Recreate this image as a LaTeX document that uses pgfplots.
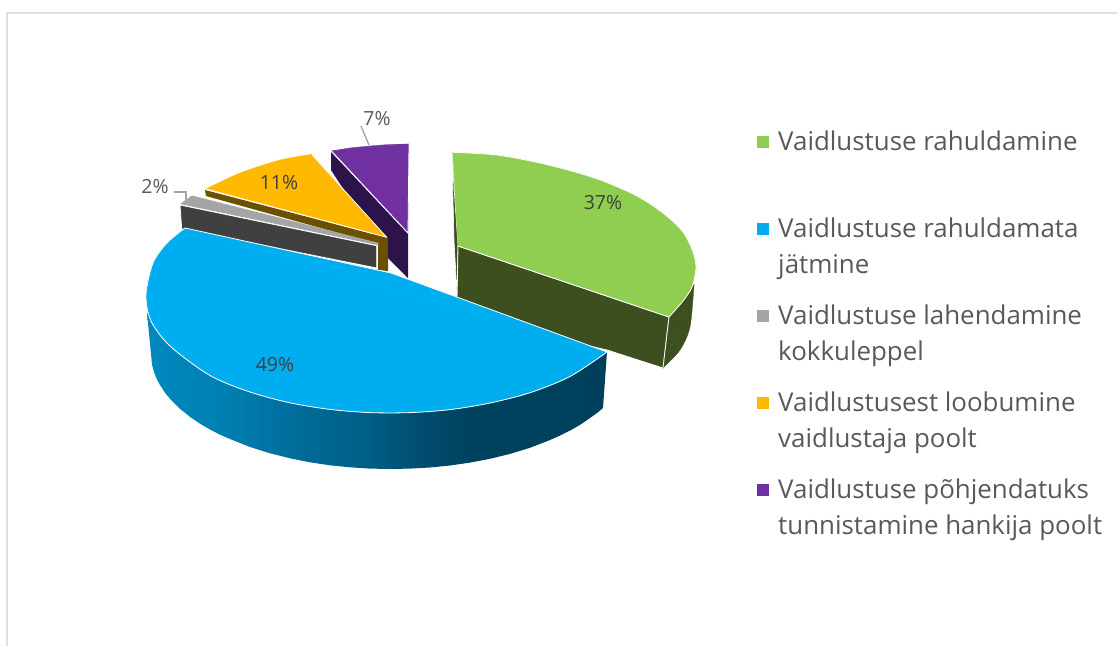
\documentclass[border=0pt]{standalone}
\usepackage{pgfplots}
\pgfplotsset{compat=1.18}
\usepackage{fontspec}
\setmainfont{Open Sans}
\definecolor{gtop}{HTML}{8FCE50}
\definecolor{gside}{HTML}{3D4F1F}
\definecolor{btop}{HTML}{00ADEF}
\definecolor{otop}{HTML}{FFB900}
\definecolor{oside}{HTML}{6B5000}
\definecolor{ptop}{HTML}{7030A0}
\definecolor{pside}{HTML}{2C1349}
\definecolor{ytop}{HTML}{A5A5A5}
\definecolor{yside}{HTML}{404040}
\definecolor{legtxt}{HTML}{595959}
\definecolor{inpie}{HTML}{404040}
\definecolor{frame}{HTML}{E0E0E0}
\definecolor{sa}{HTML}{0089BE}
\definecolor{sb}{HTML}{007EB0}
\definecolor{sc}{HTML}{006D9B}
\definecolor{sd}{HTML}{005F86}
\definecolor{se}{HTML}{004A6C}
\definecolor{sf}{HTML}{00435F}
\definecolor{sg}{HTML}{00405C}
\pgfdeclarehorizontalshading{bluegrad}{100bp}{color(0bp)=(sa);color(25bp)=(sa);color(34bp)=(sb);color(41bp)=(sc);color(48.5bp)=(sd);color(56bp)=(se);color(59.5bp)=(sf);color(75bp)=(sg);color(100bp)=(sg)}
\newcommand{\legfont}{\fontsize{25.9}{30}\selectfont\color{legtxt}}
\newcommand{\pctfont}{\fontsize{19.5}{23}\selectfont}
\begin{document}
\begin{tikzpicture}
\begin{axis}[scale only axis,width=1117pt,height=646pt,xmin=0,xmax=1117,ymin=0,ymax=646,y dir=reverse,hide axis,clip=true,
  edge/.style={white,line width=0.8pt,line join=round}]
% page extent
\addplot[draw=none] coordinates {(0,0)(1117,646)};
% frame
\addplot[frame,line width=2pt] coordinates {(7,646)(7,13)(1117,13)};
% purple
\addplot[fill=pside,draw=none] coordinates {(331,152)(408,234)(408,278)(388,258)(331,170)} --cycle;
\addplot[fill=ptop,draw=ptop,line width=0.3pt,smooth] coordinates {(331.5,151)(350,148)(370,146)(390,144.5)(409,144)} --cycle;
\addplot[fill=ptop,draw=ptop,line width=0.3pt] coordinates {(331.5,151)(409,144)(408,233)} --cycle;
\addplot[edge] coordinates {(409,144)(408,233)(331.5,151)};
% green
\addplot[fill=gside,draw=white,line width=0.6pt] coordinates {(452,157)(458,246)(457,294)(454,240)} --cycle;
\addplot[fill=gside,draw=white,line width=0.8pt] coordinates {(458,246)(669,317)(663,368)(607,350)(500,325)(457,300)} --cycle;
\addplot[fill=gside,draw=gside,line width=0.3pt] coordinates {(669,317)(694,285)(663,368)} --cycle;
\addplot[fill=gside,draw=gside,line width=0.3pt,smooth] coordinates {(694,285)(690,327)(680,350)(663,368)} --cycle;
\addplot[white,line width=0.8pt] coordinates {(669,317)(663,368)};
\addplot[fill=gtop,draw=gtop,line width=0.3pt,smooth] coordinates {(452.7,152.3)(497,155)(540,163)(575,172)(603,181)(637,196)(663,213)(683,232)(693,252)(696,268)(692,287)(683,301)(669,317)} --cycle;
\addplot[fill=gtop,draw=gtop,line width=0.3pt] coordinates {(669,317)(458,246)(452.7,152.3)} --cycle;
\addplot[edge] coordinates {(669,317)(458,246)};
\addplot[edge,smooth] coordinates {(452.7,152.3)(497,155)(540,163)(575,172)(603,181)(637,196)(663,213)(683,232)(693,252)(696,268)(692,287)(683,301)(669,317)};
% orange
\addplot[fill=oside,draw=none] coordinates {(205,190)(206,196)(378,244)(378,270)(388,271)(388,238)} --cycle;
\addplot[fill=otop,draw=otop,line width=0.3pt,smooth] coordinates {(311.7,154.3)(280,160)(240,173)(206,189)} --cycle;
\addplot[fill=otop,draw=otop,line width=0.3pt] coordinates {(311.7,154.3)(206,189)(386.7,237.3)} --cycle;
\addplot[edge] coordinates {(206,189)(386.7,237.3)(311.7,154.3)};
% grey
\addplot[fill=ytop,draw=none] coordinates {(192,195.5)(180,204)(377,245)(379,243)} --cycle;
\addplot[fill=yside,draw=white,line width=0.8pt] coordinates {(180,205)(181.7,229)(376.7,268)(376.7,245.7)} --cycle;
% blue side
\addplot[shade,shading=bluegrad,draw=none] coordinates {(607,352)(560,360)(391,380)(200,340)(147,313)(151,354)(152,364.5)(154,372)(157,379.6)(160,385)(165,392.7)(170,398.8)(180,408.8)(190,416.9)(200,423.7)(210,429.5)(220,434.7)(230,439)(250,447)(270,453.3)(290,458.3)(310,462.3)(330,465.3)(350,467.3)(370,468.6)(391,469)(410,468.6)(430,467.5)(450,465.5)(470,462.6)(490,458.8)(510,453.9)(530,447.8)(550,440)(560,435.6)(570,430.6)(580,424.9)(590,418)(597,413)(603,408)} --cycle;
% blue top
\addplot[fill=btop,draw=btop,line width=0.3pt,smooth] coordinates {(607,352)(570,376.5)(530,392.7)(490,403)(450,409.6)(410,412.6)(370,412.6)(330,409.4)(290,402.8)(250,392)(210,375.5)(170,346)(151,321)(146,295)(153,263)(167,243)(185,228)} --cycle;
\addplot[fill=btop,draw=btop,line width=0.3pt] coordinates {(185,228)(391,273)(607,352)} --cycle;
\addplot[edge] coordinates {(185,228)(391,273)(607,352)};
\addplot[edge,smooth] coordinates {(607,352)(570,376.5)(530,392.7)(490,403)(450,409.6)(410,412.6)(370,412.6)(330,409.4)(290,402.8)(250,392)(210,375.5)(170,346)(151,321)(146,295)(153,263)(167,243)(185,228)};
% leader lines
\addplot[ytop,line width=1.4pt] coordinates {(174,192)(186,192)(186,200)};
\addplot[ytop,line width=1.4pt] coordinates {(361,126)(369,145)};
% legend keys
\addplot[only marks,mark=square*,mark size=5.6pt,mark options={draw=gtop,fill=gtop}] coordinates {(762.5,142)};
\addplot[only marks,mark=square*,mark size=5.6pt,mark options={draw=btop,fill=btop}] coordinates {(762.5,229)};
\addplot[only marks,mark=square*,mark size=5.6pt,mark options={draw=ytop,fill=ytop}] coordinates {(762.5,316)};
\addplot[only marks,mark=square*,mark size=5.6pt,mark options={draw=otop,fill=otop}] coordinates {(762.5,403)};
\addplot[only marks,mark=square*,mark size=5.6pt,mark options={draw=ptop,fill=ptop}] coordinates {(762.5,490)};
% percent labels
\node[inpie,font=\pctfont] at (axis cs:603,203) {37\%};
\node[inpie,font=\pctfont] at (axis cs:275,365) {49\%};
\node[inpie,font=\pctfont] at (axis cs:279,183) {11\%};
\node[legtxt,font=\pctfont] at (axis cs:155,187) {2\%};
\node[legtxt,font=\pctfont] at (axis cs:377,119) {7\%};
% legend text
\node[anchor=base west,inner sep=0pt,font=\legfont] at (axis cs:778,150) {Vaidlustuse rahuldamine};
\node[anchor=base west,inner sep=0pt,font=\legfont] at (axis cs:778,237) {Vaidlustuse rahuldamata};
\node[anchor=base west,inner sep=0pt,font=\legfont] at (axis cs:778,273) {jätmine};
\node[anchor=base west,inner sep=0pt,font=\legfont] at (axis cs:778,324) {Vaidlustuse lahendamine};
\node[anchor=base west,inner sep=0pt,font=\legfont] at (axis cs:778,360) {kokkuleppel};
\node[anchor=base west,inner sep=0pt,font=\legfont] at (axis cs:778,411) {Vaidlustusest loobumine};
\node[anchor=base west,inner sep=0pt,font=\legfont] at (axis cs:778,447) {vaidlustaja poolt};
\node[anchor=base west,inner sep=0pt,font=\legfont] at (axis cs:778,498) {Vaidlustuse põhjendatuks};
\node[anchor=base west,inner sep=0pt,font=\legfont] at (axis cs:778,534) {tunnistamine hankija poolt};
\end{axis}
\end{tikzpicture}
\end{document}
